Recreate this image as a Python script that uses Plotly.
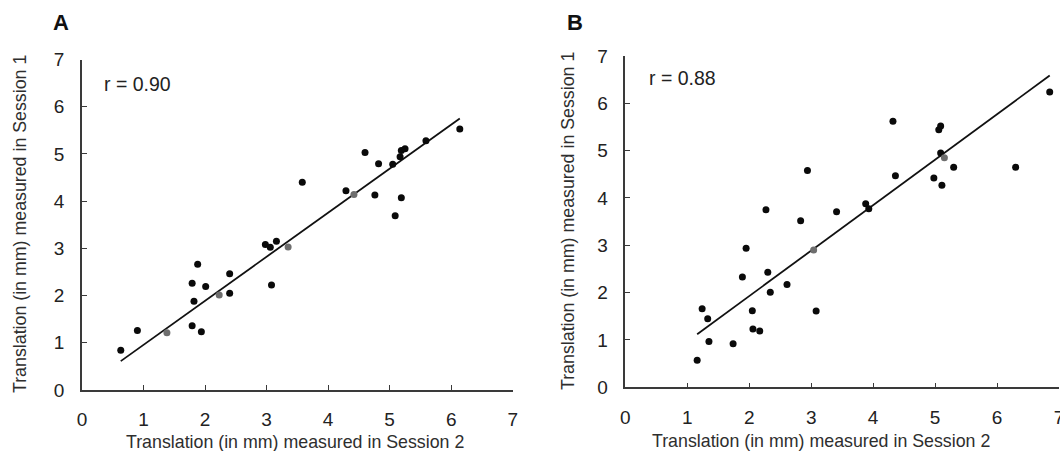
import numpy as np
import plotly.graph_objects as go

# Panel A: session 2 (x) vs session 1 (y) translation, mm
a_x = [0.63, 0.90, 1.79, 1.94, 1.79, 1.82, 1.88, 2.01, 2.40, 2.40, 2.98, 3.06,
       3.16, 3.08, 3.58, 4.29, 4.60, 4.76, 4.82, 5.05, 5.09, 5.17, 5.19, 5.25,
       5.19, 5.59, 6.14]
a_y = [0.84, 1.26, 1.36, 1.23, 2.26, 1.88, 2.66, 2.19, 2.46, 2.05, 3.08, 3.02,
       3.15, 2.22, 4.40, 4.22, 5.03, 4.13, 4.79, 4.78, 3.69, 4.94, 5.07, 5.11,
       4.07, 5.28, 5.53]
a_x_grey = [1.38, 2.23, 3.35, 4.42]
a_y_grey = [1.21, 2.01, 3.03, 4.14]
a_fit_slope = 0.933
a_fit_intercept = 0.022
a_r = "r = 0.90"

# Panel B
b_x = [1.16, 1.24, 1.33, 1.35, 1.74, 1.89, 1.95, 2.05, 2.06, 2.17, 2.27, 2.30,
       2.34, 2.61, 2.83, 2.94, 3.08, 3.41, 3.88, 3.93, 4.32, 4.36, 4.98, 5.06,
       5.09, 5.09, 5.11, 5.30, 6.30, 6.85]
b_y = [0.57, 1.66, 1.45, 0.97, 0.92, 2.33, 2.94, 1.62, 1.23, 1.19, 3.75, 2.43,
       2.01, 2.17, 3.52, 4.58, 1.61, 3.71, 3.88, 3.77, 5.62, 4.47, 4.42, 5.44,
       5.52, 4.95, 4.27, 4.65, 4.65, 6.24]
b_x_grey = [3.04, 5.15]
b_y_grey = [2.90, 4.85]
b_fit_slope = 0.961
b_fit_intercept = 0.005
b_r = "r = 0.88"

tick_vals = [0, 1, 2, 3, 4, 5, 6, 7]
x_title = "Translation (in mm) measured in Session 2"
y_title = "Translation (in mm) measured in Session 1"

W, H = 1060, 451
FONT = "Liberation Sans, Arial, sans-serif"
TXT = "#222222"
AX = "#3a3a3a"


def px_x(p):
    return p / W


def px_y(p):
    return 1 - p / H


fig = go.Figure()

panels = [
    dict(x=a_x, y=a_y, gx=a_x_grey, gy=a_y_grey,
         m=a_fit_slope, c=a_fit_intercept, xa="x", ya="y"),
    dict(x=b_x, y=b_y, gx=b_x_grey, gy=b_y_grey,
         m=b_fit_slope, c=b_fit_intercept, xa="x2", ya="y2"),
]

for p in panels:
    all_x = np.array(p["x"] + p["gx"])
    # fitted line spans the observed range of session-2 values
    lx = np.array([all_x.min(), all_x.max()])
    fig.add_trace(go.Scatter(x=lx, y=p["m"] * lx + p["c"], mode="lines",
                             line=dict(color="#111111", width=1.8),
                             xaxis=p["xa"], yaxis=p["ya"], showlegend=False,
                             hoverinfo="skip"))
    fig.add_trace(go.Scatter(x=p["x"], y=p["y"], mode="markers",
                             marker=dict(color="#0a0a0a", size=7),
                             xaxis=p["xa"], yaxis=p["ya"], showlegend=False))
    fig.add_trace(go.Scatter(x=p["gx"], y=p["gy"], mode="markers",
                             marker=dict(color="#6e6e6e", size=7),
                             xaxis=p["xa"], yaxis=p["ya"], showlegend=False))

axis_common = dict(range=[0, 7], tickvals=tick_vals, showgrid=False,
                   zeroline=False, showline=True, linecolor=AX, linewidth=1.5,
                   ticks="inside", ticklen=5, tickwidth=1.2, tickcolor=AX,
                   tickfont=dict(family=FONT, size=19, color=TXT),
                   ticklabeloverflow="allow",
                   automargin=False, fixedrange=True)

fig.update_layout(
    width=W, height=H,
    margin=dict(l=0, r=0, t=0, b=0, autoexpand=False),
    paper_bgcolor="white", plot_bgcolor="white",
    xaxis=dict(domain=[px_x(82), px_x(512.7)], anchor="y",
               ticklabelstandoff=12, **axis_common),
    yaxis=dict(domain=[px_y(389.9), px_y(59.5)], anchor="x",
               ticklabelstandoff=12, **axis_common),
    xaxis2=dict(domain=[px_x(625.3), px_x(1059)], anchor="y2",
                ticklabelstandoff=12, **axis_common),
    yaxis2=dict(domain=[px_y(387.3), px_y(56)], anchor="x2",
                ticklabelstandoff=12, **axis_common),
)

ann = []
# panel letters
for letter, cx in (("A", 61), ("B", 575)):
    ann.append(dict(text=f"<b>{letter}</b>", x=px_x(cx), y=px_y(22),
                    xref="paper", yref="paper", xanchor="center",
                    yanchor="middle", showarrow=False,
                    font=dict(family=FONT, size=22, color="#111111")))
# correlation labels
for txt, lx, cy in ((a_r, 101.7, 84), (b_r, 646.7, 78.3)):
    ann.append(dict(text=txt, x=px_x(lx), y=px_y(cy), xref="paper",
                    yref="paper", xanchor="left", yanchor="middle",
                    showarrow=False,
                    font=dict(family=FONT, size=19.5, color=TXT)))
# axis titles
for cx, cy in ((295, 441.5), (820.5, 440.7)):
    ann.append(dict(text=x_title, x=px_x(cx), y=px_y(cy), xref="paper",
                    yref="paper", xanchor="center", yanchor="middle",
                    showarrow=False,
                    font=dict(family=FONT, size=17.8, color="#2e2e2e")))
for cx, cy in ((20, 224), (568, 221)):
    ann.append(dict(text=y_title, x=px_x(cx), y=px_y(cy), xref="paper",
                    yref="paper", xanchor="center", yanchor="middle",
                    textangle=-90, showarrow=False,
                    font=dict(family=FONT, size=17.8, color="#2e2e2e")))
fig.update_layout(annotations=ann)

fig.write_html("out.html")
